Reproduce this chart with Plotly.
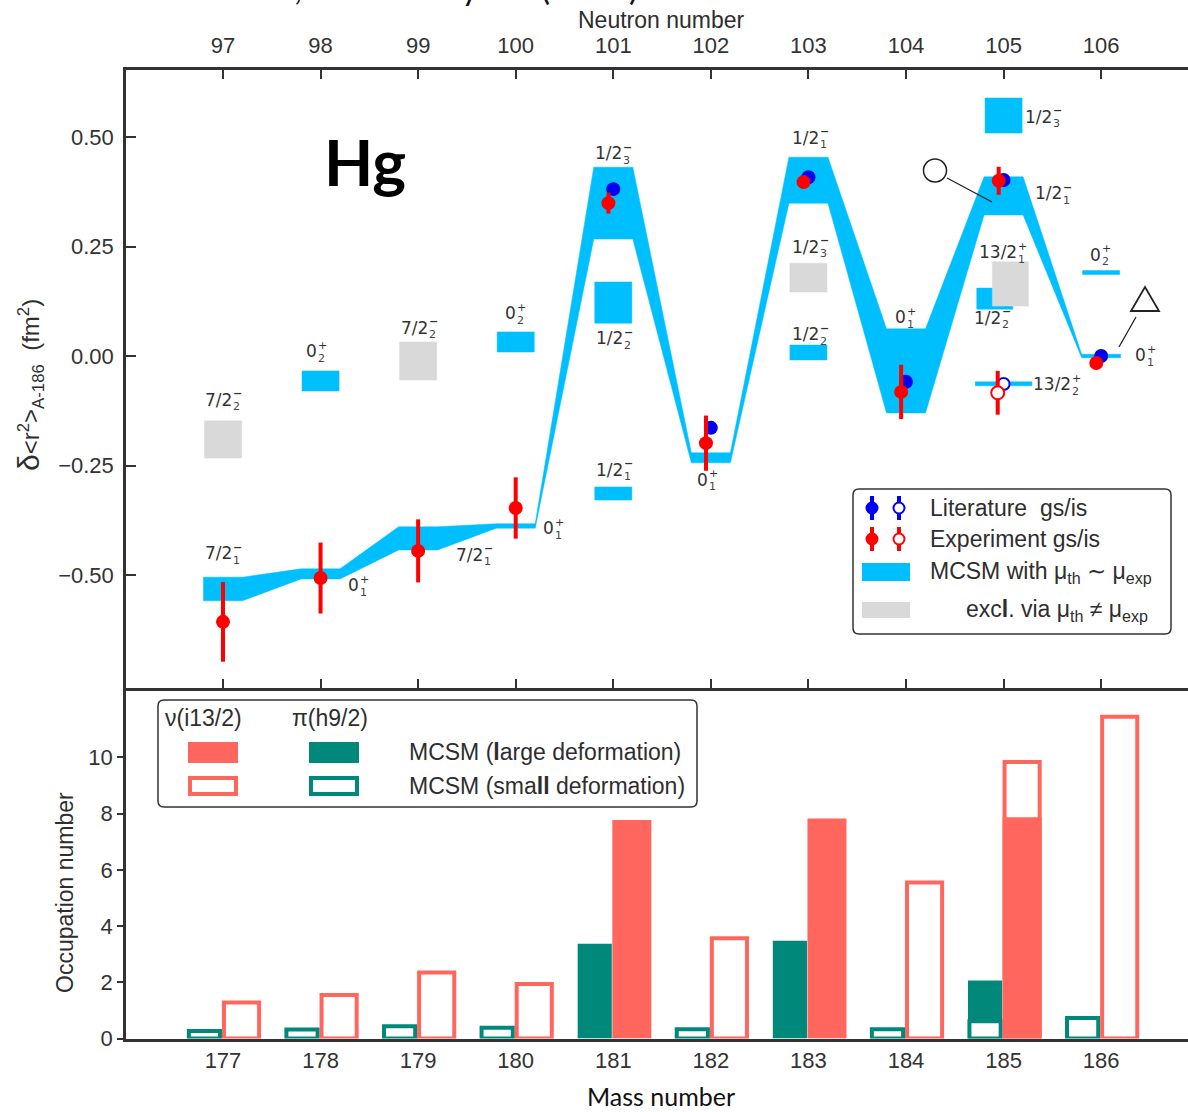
import plotly.graph_objects as go

W, H = 1188, 1112

# ---------------- upper panel: changes in mean-square charge radii ----------------
neutrons = [97, 98, 99, 100, 101, 102, 103, 104, 105, 106]
band_lo = [-0.559, -0.509, -0.443, -0.393, 0.267, -0.244, 0.349, -0.130, 0.322, -0.004]
band_hi = [-0.505, -0.486, -0.390, -0.383, 0.431, -0.221, 0.454, 0.062, 0.409, 0.004]

lit_n = [101, 102, 103, 104, 105, 106]
lit_gs = [0.381, -0.164, 0.408, -0.059, 0.402, 0.000]
lit_is_n = [105]
lit_is = [-0.064]

exp_n = [97, 98, 99, 100, 101, 102, 103, 104, 105, 106]
exp_gs = [-0.607, -0.507, -0.445, -0.347, 0.349, -0.199, 0.397, -0.082, 0.400, -0.016]
exp_gs_err = [0.091, 0.081, 0.072, 0.070, 0.024, 0.063, 0.0, 0.062, 0.032, 0.0]
exp_is_n = [105]
exp_is = [-0.084]
exp_is_err = [0.050]

# other calculated states: centre N, lower / upper edge, half width, kept (mu_th ~ mu_exp)
level_n = [97, 98, 99, 100, 101, 101, 103, 103, 105, 104.91, 105.07, 105, 106]
level_lo = [-0.233, -0.080, -0.055, 0.009, 0.075, -0.329, 0.146, -0.009, 0.509, 0.107, 0.114, -0.068, 0.186]
level_hi = [-0.148, -0.034, 0.032, 0.055, 0.169, -0.299, 0.212, 0.025, 0.589, 0.155, 0.215, -0.059, 0.195]
level_hw = [0.19, 0.19, 0.19, 0.19, 0.19, 0.19, 0.19, 0.19, 0.19, 0.185, 0.185, 0.29, 0.19]
level_kept = [False, True, False, True, True, True, False, True, True, True, False, True, True]

# state labels: N, value, spin, index, parity
level_labels = [
    (97.10, -0.100, "7/2", "2", "−"),
    (97.10, -0.450, "7/2", "1", "−"),
    (97.97, 0.011, "0", "2", "+"),
    (98.40, -0.523, "0", "1", "+"),
    (99.11, 0.064, "7/2", "2", "−"),
    (99.67, -0.454, "7/2", "1", "−"),
    (100.01, 0.098, "0", "2", "+"),
    (100.40, -0.393, "0", "1", "+"),
    (101.10, 0.463, "1/2", "3", "−"),
    (101.11, 0.041, "1/2", "2", "−"),
    (101.11, -0.260, "1/2", "1", "−"),
    (101.98, -0.283, "0", "1", "+"),
    (103.12, 0.498, "1/2", "1", "−"),
    (103.12, 0.249, "1/2", "3", "−"),
    (103.12, 0.050, "1/2", "2", "−"),
    (104.01, 0.089, "0", "1", "+"),
    (105.51, 0.546, "1/2", "3", "−"),
    (105.61, 0.372, "1/2", "1", "−"),
    (105.15, 0.237, "13/2", "1", "+"),
    (104.98, 0.087, "1/2", "2", "−"),
    (105.70, -0.064, "13/2", "2", "+"),
    (106.01, 0.231, "0", "2", "+"),
    (106.47, 0.002, "0", "1", "+"),
]

y_ticks = [-0.50, -0.25, 0.00, 0.25, 0.50]

# ---------------- lower panel: occupation numbers ----------------
mass = [177, 178, 179, 180, 181, 182, 183, 184, 185, 186]
h9_large_a = [181, 183, 185]
h9_large = [3.37, 3.48, 2.06]
h9_small_a = [177, 178, 179, 180, 182, 184, 185, 186]
h9_small = [0.27, 0.32, 0.44, 0.38, 0.33, 0.33, 0.61, 0.73]
i13_large_a = [181, 183, 185]
i13_large = [7.77, 7.83, 7.87]
i13_small_a = [177, 178, 179, 180, 182, 184, 185, 186]
i13_small = [1.28, 1.55, 2.35, 1.94, 3.57, 5.55, 9.84, 11.45]
occ_ticks = [0, 2, 4, 6, 8, 10]

# ---------------- styling ----------------
SKY = "#00BFFF"
GREY = "#D9D9D9"
RED = "#FF0000"
BLUE = "#0000EE"
CORAL = "#FF675E"
TEAL = "#00897B"
INK = "#2E2E2E"
SANS = "Liberation Sans, Arial, sans-serif"


def P(px):
    return px / W


def Q(py):
    return 1 - py / H


fig = go.Figure()

# MCSM band following the ground states
bx, by = [], []
for n, hi in zip(neutrons, band_hi):
    bx += [n - 0.2, n + 0.2]
    by += [hi, hi]
for n, lo in reversed(list(zip(neutrons, band_lo))):
    bx += [n + 0.2, n - 0.2]
    by += [lo, lo]
bx.append(bx[0])
by.append(by[0])
fig.add_trace(go.Scatter(x=bx, y=by, mode="lines", fill="toself", fillcolor=SKY,
                         line=dict(color=SKY, width=0.5), hoverinfo="skip",
                         xaxis="x", yaxis="y"))


def boxes(kept):
    xs, ys = [], []
    for n, lo, hi, hw, k in zip(level_n, level_lo, level_hi, level_hw, level_kept):
        if k != kept:
            continue
        xs += [n - hw, n + hw, n + hw, n - hw, n - hw, None]
        ys += [lo, lo, hi, hi, lo, None]
    return xs, ys


for kept, col in ((True, SKY), (False, GREY)):
    xs, ys = boxes(kept)
    fig.add_trace(go.Scatter(x=xs, y=ys, mode="lines", fill="toself", fillcolor=col,
                             line=dict(color=col, width=0.5), hoverinfo="skip",
                             xaxis="x", yaxis="y"))

# literature values
fig.add_trace(go.Scatter(x=lit_n, y=lit_gs, mode="markers",
                         marker=dict(color=BLUE, size=14, line=dict(width=0)),
                         xaxis="x", yaxis="y"))
fig.add_trace(go.Scatter(x=lit_is_n, y=lit_is, mode="markers",
                         marker=dict(color="white", size=12, line=dict(color=BLUE, width=2)),
                         xaxis="x", yaxis="y"))


def dodge(n):
    return n - 0.05 if n >= 101 else n


# this experiment
fig.add_trace(go.Scatter(x=[dodge(n) for n in exp_n], y=exp_gs, mode="markers",
                         marker=dict(color=RED, size=14, line=dict(width=0)),
                         error_y=dict(type="data", array=exp_gs_err, thickness=4, width=0, color=RED),
                         xaxis="x", yaxis="y"))
fig.add_trace(go.Scatter(x=[n - 0.06 for n in exp_is_n], y=exp_is, mode="markers",
                         marker=dict(color="white", size=13, line=dict(color=RED, width=2)),
                         error_y=dict(type="data", array=exp_is_err, thickness=4, width=0, color=RED),
                         xaxis="x", yaxis="y"))

# occupation-number bars
fig.add_trace(go.Bar(x=[a - 0.19 for a in h9_large_a], y=h9_large, width=0.35,
                     marker=dict(color=TEAL, line=dict(width=0)), xaxis="x2", yaxis="y2"))
fig.add_trace(go.Bar(x=[a - 0.19 for a in h9_small_a], y=h9_small, width=0.32,
                     marker=dict(color="white", line=dict(color=TEAL, width=4)), xaxis="x2", yaxis="y2"))
fig.add_trace(go.Bar(x=[a + 0.19 for a in i13_small_a], y=i13_small, width=0.36,
                     marker=dict(color="white", line=dict(color=CORAL, width=4)), xaxis="x2", yaxis="y2"))
fig.add_trace(go.Bar(x=[a + 0.19 for a in i13_large_a], y=i13_large, width=0.40,
                     marker=dict(color=CORAL, line=dict(width=0)), xaxis="x2", yaxis="y2"))

annotations = []
shapes = []

# state labels with stacked index / parity
for n, v, spin, idx, par in level_labels:
    annotations.append(dict(x=n, y=v, xref="x", yref="y", text=spin, showarrow=False,
                            xanchor="right", yanchor="middle", borderpad=0,
                            font=dict(family="DejaVu Sans", size=17, color="#333")))
    annotations.append(dict(x=n, y=v, xref="x", yref="y",
                            text=("<b>" + par + "</b>") if par == "−" else par, showarrow=False,
                            xanchor="left", yanchor="middle", yshift=6, xshift=-1, borderpad=0,
                            font=dict(family="DejaVu Sans", size=11, color="#333")))
    annotations.append(dict(x=n, y=v, xref="x", yref="y", text=idx, showarrow=False,
                            xanchor="left", yanchor="middle", yshift=-7, xshift=-1, borderpad=0,
                            font=dict(family="DejaVu Sans", size=11, color="#444")))


def ptext(x, y, text, size, xanchor="center", family=SANS, color=INK, angle=0):
    annotations.append(dict(x=P(x), y=Q(y), xref="paper", yref="paper", text=text,
                            showarrow=False, xanchor=xanchor, yanchor="middle",
                            textangle=angle, font=dict(family=family, size=size, color=color)))


# headings and axis titles
ptext(640, -13, "Marsh et al., Nature Physics (2018)", 34, xanchor="right",
      family="Lato, sans-serif", color="#111")
ptext(661, 20, "Neutron number", 23)
ptext(365, 162, "<b>Hg</b>", 64, family="Lato, sans-serif", color="#000")
ptext(30, 385, "<span style='font-size:30px'>δ</span>&lt;r<sup>2</sup>&gt;<sub>A-186</sub>  (fm<sup>2</sup>)",
      24, angle=-90)
ptext(65, 893, "Occupation number", 23, angle=-90)
ptext(661, 1096, "Mass number", 25, family="Lato, sans-serif", color="#111")


def rounded(x0, y0, x1, y1, r=6):
    rx, ry = r / W, r / H
    a, b, c, d = P(x0), Q(y0), P(x1), Q(y1)
    return (f"M{a+rx},{b} L{c-rx},{b} Q{c},{b} {c},{b-ry} L{c},{d+ry} Q{c},{d} {c-rx},{d} "
            f"L{a+rx},{d} Q{a},{d} {a},{d+ry} L{a},{b-ry} Q{a},{b} {a+rx},{b} Z")


def rect(x0, y0, x1, y1, fill, line_col=None, lw=0):
    shapes.append(dict(type="rect", xref="paper", yref="paper", x0=P(x0), y0=Q(y0), x1=P(x1), y1=Q(y1),
                       fillcolor=fill, line=dict(color=line_col or fill, width=lw), layer="above"))


def dot(cx, cy, fill, edge, r=6.5, lw=0):
    shapes.append(dict(type="circle", xref="paper", yref="paper", xsizemode="pixel", ysizemode="pixel",
                       xanchor=P(cx), yanchor=Q(cy), x0=-r, x1=r, y0=-r, y1=r,
                       fillcolor=fill, line=dict(color=edge, width=lw), layer="above"))


def seg(x0, y0, x1, y1, col, lw):
    shapes.append(dict(type="line", xref="paper", yref="paper", x0=P(x0), y0=Q(y0), x1=P(x1), y1=Q(y1),
                       line=dict(color=col, width=lw), layer="above"))


# upper legend
shapes.append(dict(type="path", xref="paper", yref="paper", path=rounded(853, 489, 1171, 634),
                   fillcolor="white", line=dict(color="#333", width=1.5), layer="above"))
for cy, col in ((508, BLUE), (539, RED)):
    seg(872, cy - 12, 872, cy + 12, col, 4)
    seg(899, cy - 12, 899, cy + 12, col, 4)
    dot(872, cy, col, col, r=6.5)
    dot(899, cy, "white", col, r=5.5, lw=2)
ptext(928, 508, "Literature  gs/is", 23, xanchor="left")
ptext(928, 539, "Experiment gs/is", 23, xanchor="left")
rect(862, 563, 910, 581, SKY)
ptext(928, 572, "MCSM with μ<sub>th</sub> ∼ μ<sub>exp</sub>", 23, xanchor="left")
rect(862, 602, 910, 618, GREY)
ptext(964, 610, "exc<b>l</b>. via μ<sub>th</sub> ≠ μ<sub>exp</sub>", 23, xanchor="left")

# shape-coexistence pointers
dot(935, 170.5, "white", "#222", r=11.5, lw=1.5)
seg(947, 178, 992, 202, "#222", 1.3)
shapes.append(dict(type="path", xref="paper", yref="paper",
                   path=f"M{P(1131)},{Q(311)} L{P(1159)},{Q(311)} L{P(1145)},{Q(287)} Z",
                   fillcolor="white", line=dict(color="#222", width=1.8), layer="above"))
seg(1136, 317, 1119, 347, "#222", 1.3)

# lower legend
shapes.append(dict(type="path", xref="paper", yref="paper", path=rounded(158, 700, 697, 807),
                   fillcolor="white", line=dict(color="#333", width=1.5), layer="above"))
ptext(163, 718, "ν(i13/2)", 23, xanchor="left")
ptext(290, 718, "π(h9/2)", 23, xanchor="left")
rect(188, 742, 238, 763, CORAL)
rect(309, 742, 359, 763, TEAL)
rect(190, 778, 236, 794, "white", CORAL, 4)
rect(311, 778, 357, 794, "white", TEAL, 4)
ptext(407, 752, "MCSM (<b>l</b>arge deformation)", 23, xanchor="left")
ptext(407, 786, "MCSM (sma<b>ll</b> deformation)", 23, xanchor="left")

tickfont = dict(family=SANS, size=22, color="#333")
axis_common = dict(showgrid=False, zeroline=False, showline=True, linecolor="#333", linewidth=2.5,
                   tickfont=tickfont, tickcolor="#333", tickwidth=2, automargin=False)

fig.update_layout(
    width=W, height=H, margin=dict(l=0, r=0, t=0, b=0, autoexpand=False),
    paper_bgcolor="white", plot_bgcolor="white", showlegend=False, barmode="overlay",
    annotations=annotations, shapes=shapes,
    xaxis=dict(domain=[P(126), 1], range=[96.006, 106.89], side="top", anchor="y",
               tickvals=neutrons, ticktext=[str(n) for n in neutrons],
               ticks="inside", ticklen=9, mirror="ticks", ticklabelstandoff=5, **axis_common),
    yaxis=dict(domain=[Q(688), Q(70)], range=[-0.758, 0.653], anchor="x",
               tickvals=y_ticks, tickformat=".2f", ticks="inside", ticklen=10,
               ticklabelstandoff=5, **axis_common),
    xaxis2=dict(domain=[P(126), 1], range=[176.006, 186.89], anchor="y2",
                tickvals=mass, ticktext=[str(a) for a in mass], ticks="",
                ticklabelstandoff=0, **axis_common),
    yaxis2=dict(domain=[Q(1038.5), Q(688)], range=[0, 12.47], anchor="x2",
                tickvals=occ_ticks, ticks="outside", ticklen=6, ticklabelstandoff=0, **axis_common),
)

fig.write_html("out.html")
